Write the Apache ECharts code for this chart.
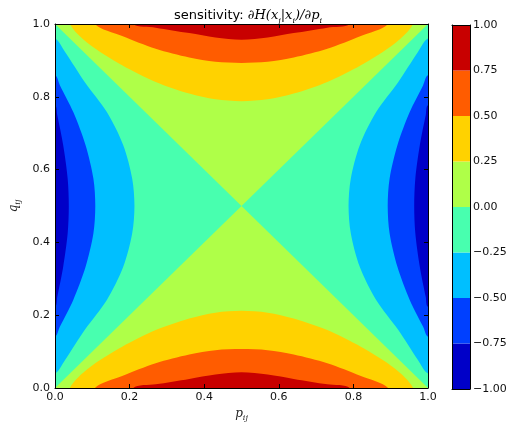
<!DOCTYPE html>
<html>
<head>
<meta charset="utf-8">
<script src="https://cdn.jsdelivr.net/npm/echarts@6/dist/echarts.min.js"></script>
<style>html,body{margin:0;padding:0;background:#fff}#chart{width:522px;height:423px}</style>
</head>
<body>
<div id="chart"></div>
<script>
// contour levels and jet colours of the filled bands
var levels = [-1, -0.75, -0.5, -0.25, 0, 0.25, 0.5, 0.75, 1];
var levelColors = ['#0000c8', '#0040ff', '#00bfff', '#48ffaf', '#afff48', '#ffd200', '#ff5c00', '#c80000'];

// contour lines, points are [p, q]
var c025Bottom = [[0.04,0],[0.09,0.054],[0.18,0.113],[0.27,0.159],[0.36,0.191],[0.43,0.207],[0.5,0.212],[0.57,0.207],[0.64,0.191],[0.73,0.159],[0.82,0.113],[0.91,0.054],[0.96,0]];
var c050Bottom = [[0.107,0],[0.18,0.033],[0.27,0.068],[0.36,0.092],[0.43,0.104],[0.5,0.107],[0.57,0.104],[0.64,0.092],[0.73,0.068],[0.82,0.033],[0.893,0]];
var c075Bottom = [[0.21,0],[0.27,0.01],[0.36,0.025],[0.43,0.037],[0.5,0.043],[0.57,0.037],[0.64,0.025],[0.73,0.01],[0.79,0]];
var c025Top = [[0.04,1],[0.09,0.946],[0.18,0.887],[0.27,0.841],[0.36,0.809],[0.43,0.793],[0.5,0.788],[0.57,0.793],[0.64,0.809],[0.73,0.841],[0.82,0.887],[0.91,0.946],[0.96,1]];
var c050Top = [[0.107,1],[0.18,0.967],[0.27,0.932],[0.36,0.908],[0.43,0.896],[0.5,0.893],[0.57,0.896],[0.64,0.908],[0.73,0.932],[0.82,0.967],[0.893,1]];
var c075Top = [[0.21,1],[0.27,0.99],[0.36,0.975],[0.43,0.963],[0.5,0.957],[0.57,0.963],[0.64,0.975],[0.73,0.99],[0.79,1]];
var cm025Left = [[0,0.04],[0.027,0.077],[0.08,0.16],[0.139,0.242],[0.183,0.333],[0.207,0.425],[0.213,0.5],[0.207,0.575],[0.183,0.667],[0.139,0.758],[0.08,0.84],[0.027,0.923],[0,0.96]];
var cm050Left = [[0,0.141],[0.013,0.168],[0.049,0.242],[0.082,0.333],[0.103,0.425],[0.108,0.5],[0.103,0.575],[0.082,0.667],[0.049,0.758],[0.013,0.832],[0,0.859]];
var cm075Left = [[0,0.223],[0.006,0.25],[0.022,0.333],[0.034,0.425],[0.037,0.5],[0.034,0.575],[0.022,0.667],[0.006,0.75],[0,0.777]];
var cm025Right = [[1,0.04],[0.973,0.077],[0.92,0.16],[0.861,0.242],[0.817,0.333],[0.793,0.425],[0.787,0.5],[0.793,0.575],[0.817,0.667],[0.861,0.758],[0.92,0.84],[0.973,0.923],[1,0.96]];
var cm050Right = [[1,0.141],[0.987,0.168],[0.951,0.242],[0.918,0.333],[0.897,0.425],[0.892,0.5],[0.897,0.575],[0.918,0.667],[0.951,0.758],[0.987,0.832],[1,0.859]];
var cm075Right = [[1,0.223],[0.994,0.25],[0.978,0.333],[0.966,0.425],[0.963,0.5],[0.966,0.575],[0.978,0.667],[0.994,0.75],[1,0.777]];
// zero contour: the two diagonals
var zeroLeft = [[0,0],[0.5,0.5],[0,1]];
var zeroRight = [[1,0],[0.5,0.5],[1,1]];

var regions = [
  {pts: zeroLeft, side: 'left', color: levelColors[3], smooth: 0},
  {pts: zeroRight, side: 'right', color: levelColors[3], smooth: 0},
  {pts: c025Bottom, side: 'bottom', color: levelColors[5], smooth: 0.3},
  {pts: c050Bottom, side: 'bottom', color: levelColors[6], smooth: 0.3},
  {pts: c075Bottom, side: 'bottom', color: levelColors[7], smooth: 0.3},
  {pts: c025Top, side: 'top', color: levelColors[5], smooth: 0.3},
  {pts: c050Top, side: 'top', color: levelColors[6], smooth: 0.3},
  {pts: c075Top, side: 'top', color: levelColors[7], smooth: 0.3},
  {pts: cm025Left, side: 'left', color: levelColors[2], smooth: 0.3},
  {pts: cm050Left, side: 'left', color: levelColors[1], smooth: 0.3},
  {pts: cm075Left, side: 'left', color: levelColors[0], smooth: 0.3},
  {pts: cm025Right, side: 'right', color: levelColors[2], smooth: 0.3},
  {pts: cm050Right, side: 'right', color: levelColors[1], smooth: 0.3},
  {pts: cm075Right, side: 'right', color: levelColors[0], smooth: 0.3}
];

function renderRegion(params, api) {
  var r = regions[params.dataIndex];
  var pts = r.pts.slice();
  var a = pts[0], b = pts[pts.length - 1];
  // close the band outside the plot, the grid clip cuts it
  if (r.side === 'bottom') pts.push([b[0], -0.05], [a[0], -0.05]);
  if (r.side === 'top') pts.push([b[0], 1.05], [a[0], 1.05]);
  if (r.side === 'left') pts.push([-0.05, b[1]], [-0.05, a[1]]);
  if (r.side === 'right') pts.push([1.05, b[1]], [1.05, a[1]]);
  return {
    type: 'polygon',
    shape: {points: pts.map(function (d) { return api.coord(d); }), smooth: r.smooth},
    style: {fill: r.color}
  };
}

function renderBar(params, api) {
  var i = params.dataIndex;
  var p0 = api.coord([0, levels[i]]);
  var p1 = api.coord([1, levels[i + 1]]);
  return {
    type: 'rect',
    shape: {x: p0[0], y: p1[1], width: p1[0] - p0[0], height: p0[1] - p1[1]},
    style: {fill: levelColors[i]}
  };
}

function fmtBar(v) {
  return v.toFixed(2).replace('-', '\u2212');
}

var labelStyle = {color: '#111', fontFamily: 'DejaVu Sans', fontSize: 11};
var lineStyle = {color: '#000', width: 1};
var mathRich = {
  v: {fontFamily: 'DejaVu Serif', fontStyle: 'italic', fontSize: 12, color: '#222', lineHeight: 16, verticalAlign: 'middle'},
  s: {fontFamily: 'DejaVu Serif', fontStyle: 'italic', fontSize: 8, color: '#222', lineHeight: 10, verticalAlign: 'bottom'}
};

// plain frame line for an axis side, no ticks or labels
function frameAxis(grid, pos, lo, hi) {
  return {type: 'value', gridIndex: grid, min: lo, max: hi, position: pos, z: 10,
    axisLine: {show: true, onZero: false, lineStyle: lineStyle},
    axisTick: {show: false}, axisLabel: {show: false}, splitLine: {show: false}};
}

var myChart = echarts.init(document.getElementById('chart'));
var option = {
  animation: false,
  title: {
    text: '{a|sensitivity: }{b|\u2202H(x}{s|j}{b||x}{s|i}{b|)/\u2202p}{s|i}',
    left: 243,
    top: 2,
    textAlign: 'center',
    textStyle: {
      rich: {
        a: {fontFamily: 'DejaVu Sans', fontSize: 13, fontWeight: 'normal', color: '#000', lineHeight: 18, verticalAlign: 'middle'},
        b: {fontFamily: 'DejaVu Serif', fontStyle: 'italic', fontWeight: 'normal', fontSize: 13, color: '#000', lineHeight: 18, verticalAlign: 'middle'},
        s: {fontFamily: 'DejaVu Serif', fontStyle: 'italic', fontWeight: 'normal', fontSize: 8, color: '#000', lineHeight: 10, verticalAlign: 'bottom'}
      }
    }
  },
  grid: [
    {left: 55, top: 24, width: 373, height: 364, show: true, backgroundColor: levelColors[4], borderWidth: 0, outerBoundsMode: 'none', containLabel: false},
    {left: 452, top: 25, width: 18, height: 364, outerBoundsMode: 'none', containLabel: false}
  ],
  xAxis: [
    {type: 'value', gridIndex: 0, min: 0, max: 1, interval: 0.2, position: 'bottom', z: 10,
      name: '{v|p}{s|ij}', nameLocation: 'middle', nameGap: 16,
      nameTextStyle: {rich: mathRich},
      axisLine: {show: true, onZero: false, lineStyle: lineStyle},
      axisTick: {show: true, inside: true, length: 4, lineStyle: lineStyle},
      axisLabel: Object.assign({margin: 4, formatter: function (v) { return v.toFixed(1); }}, labelStyle),
      splitLine: {show: false}},
    {type: 'value', gridIndex: 0, min: 0, max: 1, interval: 0.2, position: 'top', z: 10,
      axisLine: {show: true, onZero: false, lineStyle: lineStyle},
      axisTick: {show: true, inside: true, length: 4, lineStyle: lineStyle},
      axisLabel: {show: false}, splitLine: {show: false}},
    frameAxis(1, 'bottom', 0, 1),
    frameAxis(1, 'top', 0, 1)
  ],
  yAxis: [
    {type: 'value', gridIndex: 0, min: 0, max: 1, interval: 0.2, position: 'left', z: 10,
      name: '{v|q}{s|ij}', nameLocation: 'middle', nameGap: 22,
      nameTextStyle: {rich: mathRich},
      axisLine: {show: true, onZero: false, lineStyle: lineStyle},
      axisTick: {show: true, inside: true, length: 4, lineStyle: lineStyle},
      axisLabel: Object.assign({margin: 5, formatter: function (v) { return v.toFixed(1); }}, labelStyle),
      splitLine: {show: false}},
    {type: 'value', gridIndex: 0, min: 0, max: 1, interval: 0.2, position: 'right', z: 10,
      axisLine: {show: true, onZero: false, lineStyle: lineStyle},
      axisTick: {show: true, inside: true, length: 4, lineStyle: lineStyle},
      axisLabel: {show: false}, splitLine: {show: false}},
    {type: 'value', gridIndex: 1, min: -1, max: 1, interval: 0.25, position: 'right', z: 10,
      axisLine: {show: true, onZero: false, lineStyle: lineStyle},
      axisTick: {show: false},
      axisLabel: Object.assign({margin: 3, formatter: fmtBar}, labelStyle),
      splitLine: {show: false}},
    frameAxis(1, 'left', -1, 1)
  ],
  series: [
    {type: 'custom', xAxisIndex: 0, yAxisIndex: 0, clip: true, renderItem: renderRegion,
      data: regions.map(function (r, i) { return [i]; }), silent: true, z: 1},
    {type: 'custom', xAxisIndex: 2, yAxisIndex: 2, renderItem: renderBar,
      data: levelColors.map(function (c, i) { return [i]; }), silent: true, z: 1}
  ]
};
myChart.setOption(option);
</script>
</body>
</html>
